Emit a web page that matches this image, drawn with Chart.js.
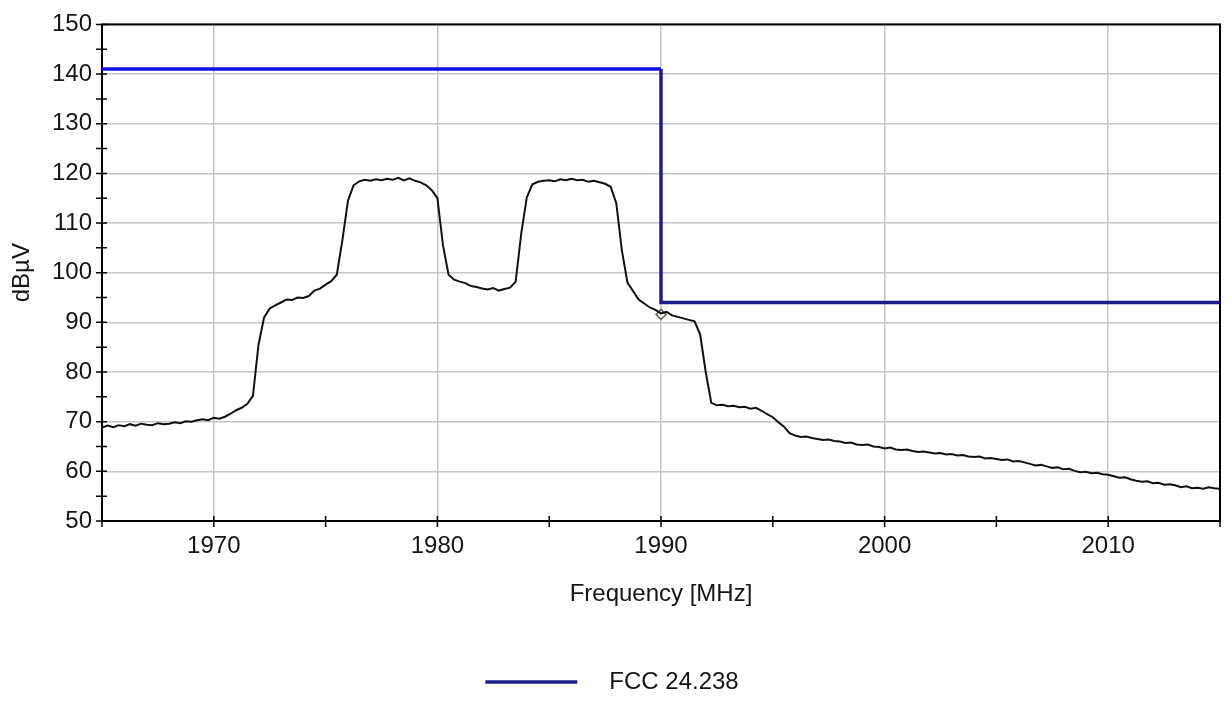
<!DOCTYPE html>
<html lang="en">
<head>
<meta charset="UTF-8" />
<title>Emission spectrum vs FCC 24.238</title>
<script src="https://cdn.jsdelivr.net/npm/chart.js"></script>
<style>
  * { margin: 0; padding: 0; box-sizing: border-box; }
  body { background: #fff; }
  .wrap { width: 1231px; height: 704px; position: relative; }
</style>
</head>
<body>
<div class="wrap"><canvas id="spectrum"></canvas></div>
<script>
// measured trace, one reading every 0.25 MHz starting at 1965 MHz
const traceStart = 1965;
const traceStep = 0.25;
const traceLevel = [
  68.8, 69.2, 68.9, 69.3,  69.1, 69.5, 69.2, 69.6,  69.4, 69.3, 69.7, 69.5,
  69.6, 69.9, 69.7, 70.1,  70.0, 70.3, 70.5, 70.3,  70.8, 70.6, 71.0, 71.6,
  72.3, 72.8, 73.6, 75.2,  85.5, 91.0, 92.8, 93.4,  94.0, 94.6, 94.5, 95.0,
  94.9, 95.3, 96.4, 96.8,  97.6, 98.3, 99.6, 106.5, 114.5, 117.6, 118.4, 118.7,
  118.5, 118.8, 118.6, 118.9, 118.7, 119.1, 118.6, 119.0, 118.5, 118.2, 117.6, 116.6,
  115.0, 105.5, 99.6, 98.6,  98.2, 97.9, 97.3, 97.1,  96.8, 96.6, 96.9, 96.4,
  96.7, 97.0, 98.2, 107.9, 115.2, 117.8, 118.3, 118.5, 118.6, 118.4, 118.8, 118.6,
  118.9, 118.6, 118.7, 118.3, 118.5, 118.2, 117.9, 117.3, 114.0, 104.5, 98.0, 96.3,
  94.6, 93.8, 93.0, 92.5,  91.8, 92.1, 91.4, 91.1,  90.8, 90.5, 90.2, 87.6,
  80.0, 73.8, 73.3, 73.4,  73.1, 73.2, 72.9, 73.0,  72.6, 72.8, 72.2, 71.5,
  70.9, 69.9, 69.0, 67.7,  67.2, 66.9, 67.0, 66.7,  66.5, 66.3, 66.4, 66.1,
  66.0, 65.7, 65.8, 65.4,  65.3, 65.4, 65.0, 64.9,  64.6, 64.8, 64.4, 64.3,
  64.4, 64.1, 63.9, 64.0,  63.8, 63.6, 63.7, 63.4,  63.5, 63.2, 63.3, 63.0,
  62.9, 63.0, 62.6, 62.7,  62.5, 62.3, 62.4, 62.0,  62.1, 61.8, 61.5, 61.2,
  61.3, 61.0, 60.7, 60.8,  60.4, 60.5, 60.1, 59.8,  59.9, 59.6, 59.7, 59.4,
  59.3, 59.0, 58.7, 58.8,  58.4, 58.1, 57.9, 58.0,  57.6, 57.7, 57.3, 57.4,
  57.2, 56.8, 57.0, 56.6,  56.7, 56.5, 56.8, 56.6,  56.5
];

// FCC 24.238 emission mask (step at the block edge)
const limitFreq = [1965, 1990, 1990, 2015];
const limitLevel = [141, 141, 94, 94];

// worst-case marker on the trace
const markerFreq = [1990];
const markerLevel = [91.6];

// axis ranges and labelled ticks
const freqRange = [1965, 2015];
const levelRange = [50, 150];
const freqLabels = [1970, 1980, 1990, 2000, 2010];
const levelLabels = [50, 60, 70, 80, 90, 100, 110, 120, 130, 140, 150];

const NAVY = '#1c1c8c';
const BLUE = '#1212ee';
const GRID = '#c6c6c6';

const tracePoints = traceLevel.map((v, i) => ({ x: traceStart + i * traceStep, y: v }));
const limitPoints = limitFreq.map((f, i) => ({ x: f, y: limitLevel[i] }));
const markerPoints = markerFreq.map((f, i) => ({ x: f, y: markerLevel[i] }));

// plot frame plus tick marks that straddle the axes
const axisFrame = {
  id: 'axisFrame',
  beforeDatasetsDraw(chart) {
    const { ctx, chartArea: a, scales: { x, y } } = chart;
    ctx.save();
    ctx.strokeStyle = '#000';
    ctx.lineWidth = 2;
    ctx.strokeRect(a.left, a.top, a.right - a.left, a.bottom - a.top);
    ctx.lineWidth = 1.5;
    ctx.beginPath();
    x.ticks.forEach(t => {
      const px = x.getPixelForValue(t.value);
      ctx.moveTo(px, a.bottom - 5);
      ctx.lineTo(px, a.bottom + 6);
    });
    y.ticks.forEach(t => {
      const py = y.getPixelForValue(t.value);
      ctx.moveTo(a.left - 6, py);
      ctx.lineTo(a.left + 5, py);
    });
    ctx.stroke();
    ctx.restore();
  }
};

Chart.defaults.font.family = "'Liberation Sans', Arial, sans-serif";
Chart.defaults.font.size = 24;
Chart.defaults.color = '#151515';

new Chart(document.getElementById('spectrum'), {
  type: 'line',
  data: {
    datasets: [
      {
        label: 'FCC 24.238',
        data: limitPoints,
        borderColor: NAVY,
        borderWidth: 3.5,
        pointRadius: 0,
        segment: { borderColor: c => c.p0DataIndex === 0 ? BLUE : NAVY }
      },
      {
        label: 'Trace',
        data: tracePoints,
        borderColor: '#111',
        borderWidth: 2,
        pointRadius: 0
      },
      {
        label: 'Marker',
        data: markerPoints,
        showLine: false,
        pointStyle: 'rectRot',
        pointRadius: 5,
        borderWidth: 1.5,
        borderColor: '#5e6052',
        backgroundColor: 'rgba(255,255,255,0.7)'
      }
    ]
  },
  options: {
    responsive: true,
    maintainAspectRatio: false,
    animation: false,
    parsing: true,
    layout: { padding: { left: 0, top: 20, right: 7, bottom: 0 } },
    plugins: {
      tooltip: { enabled: false },
      legend: {
        position: 'bottom',
        labels: {
          usePointStyle: true,
          pointStyle: 'line',
          pointStyleWidth: 92,
          padding: 4,
          color: '#151515',
          filter: item => item.datasetIndex === 0,
          generateLabels(chart) {
            return Chart.defaults.plugins.legend.labels.generateLabels(chart)
              .map(l => ({ ...l, text: '   ' + l.text, strokeStyle: NAVY, lineWidth: 3.5 }));
          }
        }
      }
    },
    scales: {
      x: {
        type: 'linear',
        min: freqRange[0],
        max: freqRange[1],
        border: { display: false },
        grid: {
          drawTicks: false,
          lineWidth: 1.5,
          color: c => c.tick && freqLabels.includes(c.tick.value) ? GRID : 'transparent'
        },
        ticks: {
          stepSize: 5,
          autoSkip: false,
          maxRotation: 0,
          padding: 11,
          callback: v => freqLabels.includes(v) ? String(v) : ''
        },
        title: { display: true, text: 'Frequency [MHz]', padding: { top: 4, bottom: 57 } },
        afterFit: s => { s.height = 145; }
      },
      y: {
        min: levelRange[0],
        max: levelRange[1],
        border: { display: false },
        grid: {
          drawTicks: false,
          lineWidth: 1.5,
          color: c => c.tick && levelLabels.includes(c.tick.value) ? GRID : 'transparent'
        },
        ticks: {
          stepSize: 5,
          autoSkip: false,
          padding: 10,
          callback: v => levelLabels.includes(v) ? String(v) : ''
        },
        title: { display: true, text: 'dBµV', padding: { top: 8, bottom: 0 } },
        afterFit: s => { s.width = 102; }
      }
    }
  },
  plugins: [axisFrame]
});
</script>
</body>
</html>
